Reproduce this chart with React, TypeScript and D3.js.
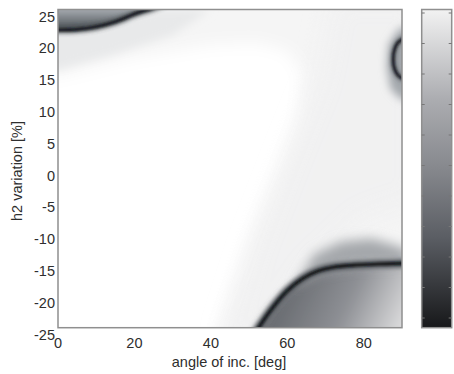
import * as d3 from 'd3';
import React from 'react';

// axis ticks
const xTicks = [0, 20, 40, 60, 80];
const yTicks = [25, 20, 15, 10, 5, 0, -5, -10, -15, -20, -25];
const cbarTicks = [0, 1, 2, 3, 4, 5, 6, 7, 8, 9, 10];

type Pt = [number, number];

// dark ridge lines: [angle deg, h2 %]
const topRidge: Pt[] = [[-2, 21.8], [0, 21.8], [5, 21.9], [10, 22.3], [15, 23.1], [20, 24.3], [25, 25.3], [28, 26]];
const bottomRidge: Pt[] = [[51, -26.5], [52.5, -25], [56, -22], [60, -19.2], [64, -17.3], [68, -16.1], [72, -15.5], [78, -15.15], [84, -15], [90, -14.9], [92, -14.9]];
const rightArc: Pt[] = [[91, 20.6], [90, 20.3], [88.8, 19.7], [88, 18.6], [87.7, 17.2], [88, 15.8], [88.8, 14.8], [90, 14.2], [91, 14]];

// shaded zones around the ridges
const whiteCore: Pt[] = [[-5, 14.5], [0, 14.5], [20, 17.5], [40, 19.5], [52, 19.8], [60, 18.5], [64, 15], [63, 8], [58, 0], [51, -10], [45, -20], [42, -25], [41, -30], [-5, -30]];
const topShade: Pt[] = [[-5, 21.8], [0, 21.8], [5, 21.9], [10, 22.3], [15, 23.1], [20, 24.3], [25, 25.3], [30, 28], [-5, 28]];
const topFade: Pt[] = [[-5, 22], [10, 22.5], [25, 25], [40, 25], [30, 21], [15, 18], [0, 15.5], [-5, 15.5]];
const lowerShade: Pt[] = [[51, -26.5], [52.5, -25], [56, -22], [60, -19.2], [64, -17.3], [68, -16.1], [72, -15.5], [78, -15.15], [84, -15], [90, -14.9], [95, -14.9], [95, -30], [51, -30]];
const flatHalo: Pt[] = [[62, -18.5], [67, -13.5], [74, -11.5], [82, -11], [88, -12], [92, -13], [92, -15], [78, -15.3], [68, -16.3]];
const lightBand: Pt[] = [[43, -27], [51, -12], [60, 2], [68, 14], [72, 27], [95, 27], [95, -5], [80, -8], [66, -16], [55, -27]];
const arcHalo: Pt[] = [[92, 22.5], [89, 21.8], [86.5, 19.5], [86, 16], [87, 12.5], [89.5, 11], [92, 10.5]];

const width = 454;
const height = 374;
const plot = { left: 58, right: 402, top: 9.5, bottom: 327.7 };
const cbar = { left: 421.7, right: 451.7 };

const x = d3.scaleLinear().domain([0, 90]).range([plot.left, plot.right]);
const y = d3.scaleLinear().domain([-25, 25]).range([plot.bottom, plot.top]);
const yc = d3.scaleLinear().domain([0, 10]).range([318, 13]);

const ridge = d3.line<Pt>().x((d) => x(d[0])).y((d) => y(d[1])).curve(d3.curveCatmullRom);
const zone = d3.line<Pt>().x((d) => x(d[0])).y((d) => y(d[1])).curve(d3.curveLinearClosed);

const font = '"Liberation Sans", Arial, sans-serif';

const App: React.FC = () => {
  const blur = (id: string, s: number) => (
    <filter id={id} x="-50%" y="-50%" width="200%" height="200%">
      <feGaussianBlur stdDeviation={s} />
    </filter>
  );
  return (
    <div style={{ position: 'absolute', left: 0, top: 0 }}>
      <svg width={width} height={height} style={{ display: 'block', background: '#fff' }}>
        <defs>
          <clipPath id="plotClip">
            <rect x={plot.left} y={plot.top} width={plot.right - plot.left} height={plot.bottom - plot.top} />
          </clipPath>
          {blur('b1', 1)}
          {blur('b2', 2)}
          {blur('b4', 4)}
          {blur('b6', 6)}
          {blur('b8', 8)}
          {blur('b12', 12)}
          <linearGradient id="lowerGrad" gradientUnits="userSpaceOnUse" x1={x(62)} y1={y(-17)} x2={x(90)} y2={y(-25)}>
            <stop offset="0" stopColor="#6a6d72" />
            <stop offset="0.5" stopColor="#8e9095" />
            <stop offset="1" stopColor="#dcdcdd" />
          </linearGradient>
          <linearGradient id="topGrad" gradientUnits="userSpaceOnUse" x1={0} y1={y(25)} x2={0} y2={y(21.8)}>
            <stop offset="0" stopColor="#a4a9ae" />
            <stop offset="1" stopColor="#4a5055" />
          </linearGradient>
          <linearGradient id="cbarGrad" x1="0" y1="0" x2="0" y2="1">
            <stop offset="0" stopColor="#f2f2f2" />
            <stop offset="0.28" stopColor="#acadb1" />
            <stop offset="0.5" stopColor="#86888d" />
            <stop offset="0.72" stopColor="#5a5d63" />
            <stop offset="1" stopColor="#17181a" />
          </linearGradient>
        </defs>

        <g clipPath="url(#plotClip)">
          <rect x={plot.left} y={plot.top} width={plot.right - plot.left} height={plot.bottom - plot.top} fill="#f5f5f5" />
          <path d={zone(whiteCore) || ''} fill="#fff" filter="url(#b8)" />
          <path d={zone(lightBand) || ''} fill="#eeeeef" filter="url(#b12)" opacity={0.6} />
          <path d={zone(topFade) || ''} fill="#e8e9ea" filter="url(#b4)" />
          <path d={zone(topShade) || ''} fill="url(#topGrad)" filter="url(#b2)" />
          <path d={ridge(topRidge) || ''} fill="none" stroke="#3a3f44" strokeWidth={6} filter="url(#b2)" />
          <path d={ridge(topRidge) || ''} fill="none" stroke="#15181b" strokeWidth={2.4} filter="url(#b1)" />

          <path d={zone(arcHalo) || ''} fill="#a3a7ac" filter="url(#b4)" />
          <path d={ridge(rightArc) || ''} fill="none" stroke="#5a5f65" strokeWidth={5} filter="url(#b2)" />
          <path d={ridge(rightArc) || ''} fill="none" stroke="#15181c" strokeWidth={2.4} filter="url(#b1)" />

          <path d={zone(lowerShade) || ''} fill="url(#lowerGrad)" filter="url(#b4)" />
          <path d={zone(flatHalo) || ''} fill="#a4a7ab" filter="url(#b6)" />
          <path d={ridge(bottomRidge) || ''} fill="none" stroke="#4a4e53" strokeWidth={8} filter="url(#b2)" />
          <path d={ridge(bottomRidge) || ''} fill="none" stroke="#121518" strokeWidth={2.6} filter="url(#b1)" />
        </g>
        <rect x={plot.left} y={plot.top} width={plot.right - plot.left} height={plot.bottom - plot.top} fill="none" stroke="#8f8f8f" strokeWidth={1.5} />

        <g fontFamily={font} fontSize={14.5} fill="#2e2e2e">
          {xTicks.map((t) => (
            <text key={t} x={x(t)} y={343.3} textAnchor="middle" dominantBaseline="central">{t}</text>
          ))}
          {yTicks.map((t) => (
            <text key={t} x={55} y={y(t) + 7} textAnchor="end" dominantBaseline="central">{t}</text>
          ))}
          <text x={229} y={361.7} textAnchor="middle" dominantBaseline="central">angle of inc. [deg]</text>
          <text transform="translate(17,171) rotate(-90)" textAnchor="middle" dominantBaseline="central">h2 variation [%]</text>
        </g>

        <rect x={cbar.left} y={plot.top} width={cbar.right - cbar.left} height={plot.bottom - plot.top} fill="url(#cbarGrad)" stroke="#8f8f8f" strokeWidth={1.5} />
        {cbarTicks.map((t) => (
          <g key={t} stroke="#777" strokeWidth={1}>
            <line x1={cbar.left} x2={cbar.left + 3} y1={yc(t)} y2={yc(t)} />
            <line x1={cbar.right - 3} x2={cbar.right} y1={yc(t)} y2={yc(t)} />
          </g>
        ))}
      </svg>
    </div>
  );
};

export default App;
